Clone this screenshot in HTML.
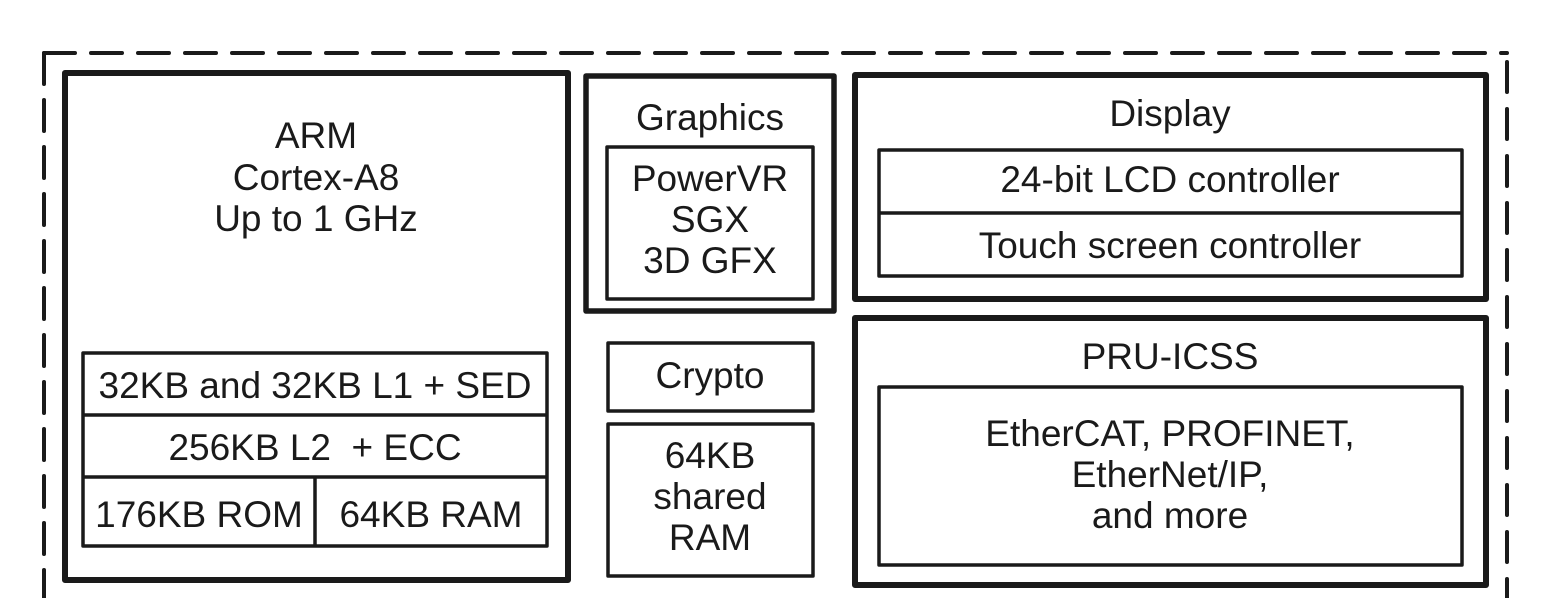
<!DOCTYPE html>
<html><head><meta charset="utf-8"><style>
html,body{margin:0;padding:0;background:#fff;}
svg{display:block;}
text{font-family:"Liberation Sans",Arial,sans-serif;fill:#1a1a1a;text-anchor:middle;}
</style></head><body>
<svg width="1558" height="598" viewBox="0 0 1558 598" xmlns="http://www.w3.org/2000/svg">
<g fill="none" stroke="#1a1a1a" stroke-linecap="round">
<line x1="44" y1="53" x2="1507" y2="53" stroke-width="4" stroke-dasharray="31 16"/>
<line x1="44" y1="53" x2="44" y2="598" stroke-width="4" stroke-dasharray="31 16"/>
<line x1="1507" y1="62" x2="1507" y2="598" stroke-width="4" stroke-dasharray="30 17"/>
</g>
<g fill="none" stroke="#1a1a1a" stroke-linejoin="round">
<rect x="65" y="73" width="503" height="507" stroke-width="6"/>
<rect x="83" y="353" width="464" height="193" stroke-width="3.5"/>
<line x1="83" y1="415" x2="547" y2="415" stroke-width="3.5"/>
<line x1="83" y1="477" x2="547" y2="477" stroke-width="3.5"/>
<line x1="315" y1="477" x2="315" y2="546" stroke-width="3.5"/>
<rect x="586" y="76" width="248" height="235" stroke-width="5.5"/>
<rect x="607" y="147" width="206" height="152" stroke-width="3.5"/>
<rect x="608" y="343" width="205" height="68" stroke-width="3.5"/>
<rect x="608" y="424" width="205" height="152" stroke-width="3.5"/>
<rect x="855" y="75" width="631" height="224" stroke-width="6"/>
<rect x="879" y="150" width="583" height="126" stroke-width="3.5"/>
<line x1="879" y1="213" x2="1462" y2="213" stroke-width="3.5"/>
<rect x="855" y="318" width="631" height="267" stroke-width="6"/>
<rect x="879" y="387" width="583" height="178" stroke-width="3.5"/>
</g>
<g font-size="37">
<text x="316" y="148">ARM</text>
<text x="316" y="190">Cortex-A8</text>
<text x="316" y="231">Up to 1 GHz</text>
<text x="315" y="398">32KB and 32KB L1 + SED</text>
<text x="315" y="460">256KB L2 &#160;+ ECC</text>
<text x="199" y="527">176KB ROM</text>
<text x="431" y="527">64KB RAM</text>
<text x="710" y="130">Graphics</text>
<text x="710" y="191">PowerVR</text>
<text x="710" y="232">SGX</text>
<text x="710" y="273">3D GFX</text>
<text x="710" y="388">Crypto</text>
<text x="710" y="468">64KB</text>
<text x="710" y="509">shared</text>
<text x="710" y="550">RAM</text>
<text x="1170" y="126">Display</text>
<text x="1170" y="192">24-bit LCD controller</text>
<text x="1170" y="258">Touch screen controller</text>
<text x="1170" y="369">PRU-ICSS</text>
<text x="1170" y="446">EtherCAT, PROFINET,</text>
<text x="1170" y="487">EtherNet/IP,</text>
<text x="1170" y="528">and more</text>
</g>
</svg>
</body></html>
